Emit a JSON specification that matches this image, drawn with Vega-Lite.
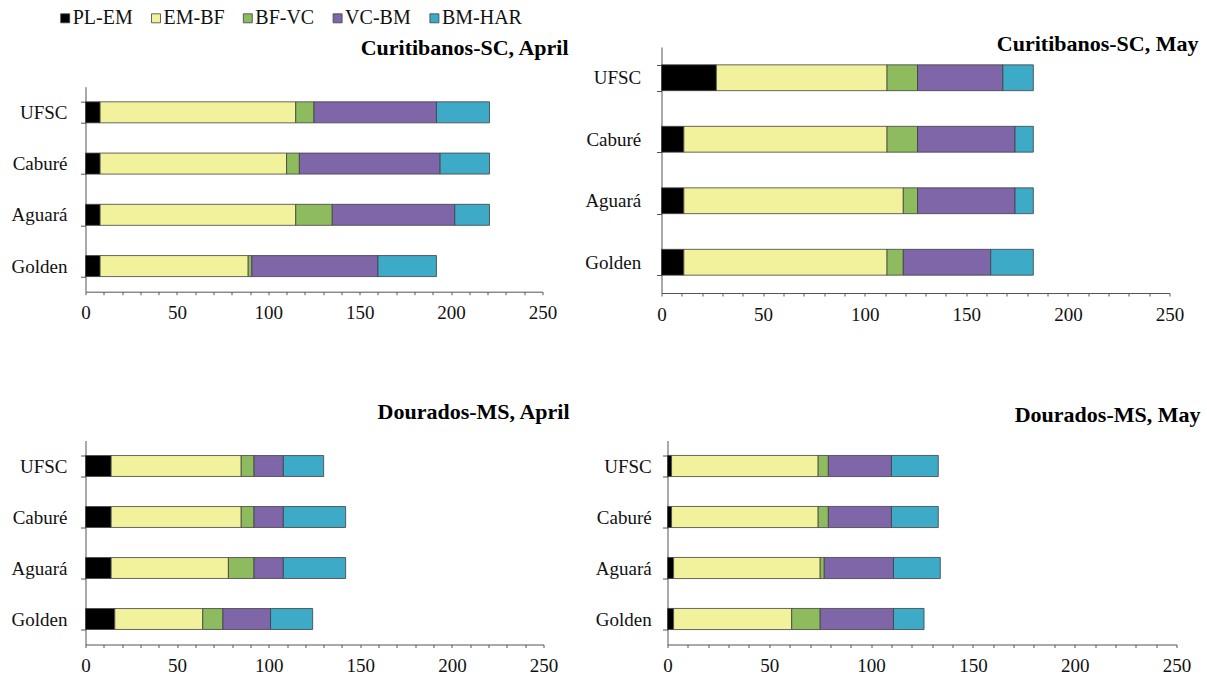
{
  "$schema": "https://vega.github.io/schema/vega-lite/v6.json",
  "padding": {"left": 10.5, "top": 8, "right": 0, "bottom": 0},
  "background": "white",
  "datasets": {
    "d": [
      {"p":"CA","c":"UFSC","s":"PL-EM","k":1,"v":8},{"p":"CA","c":"UFSC","s":"EM-BF","k":2,"v":107},{"p":"CA","c":"UFSC","s":"BF-VC","k":3,"v":10},{"p":"CA","c":"UFSC","s":"VC-BM","k":4,"v":67},{"p":"CA","c":"UFSC","s":"BM-HAR","k":5,"v":29},
      {"p":"CA","c":"Caburé","s":"PL-EM","k":1,"v":8},{"p":"CA","c":"Caburé","s":"EM-BF","k":2,"v":102},{"p":"CA","c":"Caburé","s":"BF-VC","k":3,"v":7},{"p":"CA","c":"Caburé","s":"VC-BM","k":4,"v":77},{"p":"CA","c":"Caburé","s":"BM-HAR","k":5,"v":27},
      {"p":"CA","c":"Aguará","s":"PL-EM","k":1,"v":8},{"p":"CA","c":"Aguará","s":"EM-BF","k":2,"v":107},{"p":"CA","c":"Aguará","s":"BF-VC","k":3,"v":20},{"p":"CA","c":"Aguará","s":"VC-BM","k":4,"v":67},{"p":"CA","c":"Aguará","s":"BM-HAR","k":5,"v":19},
      {"p":"CA","c":"Golden","s":"PL-EM","k":1,"v":8},{"p":"CA","c":"Golden","s":"EM-BF","k":2,"v":81},{"p":"CA","c":"Golden","s":"BF-VC","k":3,"v":2},{"p":"CA","c":"Golden","s":"VC-BM","k":4,"v":69},{"p":"CA","c":"Golden","s":"BM-HAR","k":5,"v":32},
      {"p":"CM","c":"UFSC","s":"PL-EM","k":1,"v":27},{"p":"CM","c":"UFSC","s":"EM-BF","k":2,"v":84},{"p":"CM","c":"UFSC","s":"BF-VC","k":3,"v":15},{"p":"CM","c":"UFSC","s":"VC-BM","k":4,"v":42},{"p":"CM","c":"UFSC","s":"BM-HAR","k":5,"v":15},
      {"p":"CM","c":"Caburé","s":"PL-EM","k":1,"v":11},{"p":"CM","c":"Caburé","s":"EM-BF","k":2,"v":100},{"p":"CM","c":"Caburé","s":"BF-VC","k":3,"v":15},{"p":"CM","c":"Caburé","s":"VC-BM","k":4,"v":48},{"p":"CM","c":"Caburé","s":"BM-HAR","k":5,"v":9},
      {"p":"CM","c":"Aguará","s":"PL-EM","k":1,"v":11},{"p":"CM","c":"Aguará","s":"EM-BF","k":2,"v":108},{"p":"CM","c":"Aguará","s":"BF-VC","k":3,"v":7},{"p":"CM","c":"Aguará","s":"VC-BM","k":4,"v":48},{"p":"CM","c":"Aguará","s":"BM-HAR","k":5,"v":9},
      {"p":"CM","c":"Golden","s":"PL-EM","k":1,"v":11},{"p":"CM","c":"Golden","s":"EM-BF","k":2,"v":100},{"p":"CM","c":"Golden","s":"BF-VC","k":3,"v":8},{"p":"CM","c":"Golden","s":"VC-BM","k":4,"v":43},{"p":"CM","c":"Golden","s":"BM-HAR","k":5,"v":21},
      {"p":"DA","c":"UFSC","s":"PL-EM","k":1,"v":14},{"p":"DA","c":"UFSC","s":"EM-BF","k":2,"v":71},{"p":"DA","c":"UFSC","s":"BF-VC","k":3,"v":7},{"p":"DA","c":"UFSC","s":"VC-BM","k":4,"v":16},{"p":"DA","c":"UFSC","s":"BM-HAR","k":5,"v":22},
      {"p":"DA","c":"Caburé","s":"PL-EM","k":1,"v":14},{"p":"DA","c":"Caburé","s":"EM-BF","k":2,"v":71},{"p":"DA","c":"Caburé","s":"BF-VC","k":3,"v":7},{"p":"DA","c":"Caburé","s":"VC-BM","k":4,"v":16},{"p":"DA","c":"Caburé","s":"BM-HAR","k":5,"v":34},
      {"p":"DA","c":"Aguará","s":"PL-EM","k":1,"v":14},{"p":"DA","c":"Aguará","s":"EM-BF","k":2,"v":64},{"p":"DA","c":"Aguará","s":"BF-VC","k":3,"v":14},{"p":"DA","c":"Aguará","s":"VC-BM","k":4,"v":16},{"p":"DA","c":"Aguará","s":"BM-HAR","k":5,"v":34},
      {"p":"DA","c":"Golden","s":"PL-EM","k":1,"v":16},{"p":"DA","c":"Golden","s":"EM-BF","k":2,"v":48},{"p":"DA","c":"Golden","s":"BF-VC","k":3,"v":11},{"p":"DA","c":"Golden","s":"VC-BM","k":4,"v":26},{"p":"DA","c":"Golden","s":"BM-HAR","k":5,"v":23},
      {"p":"DM","c":"UFSC","s":"PL-EM","k":1,"v":2},{"p":"DM","c":"UFSC","s":"EM-BF","k":2,"v":72},{"p":"DM","c":"UFSC","s":"BF-VC","k":3,"v":5},{"p":"DM","c":"UFSC","s":"VC-BM","k":4,"v":31},{"p":"DM","c":"UFSC","s":"BM-HAR","k":5,"v":23},
      {"p":"DM","c":"Caburé","s":"PL-EM","k":1,"v":2},{"p":"DM","c":"Caburé","s":"EM-BF","k":2,"v":72},{"p":"DM","c":"Caburé","s":"BF-VC","k":3,"v":5},{"p":"DM","c":"Caburé","s":"VC-BM","k":4,"v":31},{"p":"DM","c":"Caburé","s":"BM-HAR","k":5,"v":23},
      {"p":"DM","c":"Aguará","s":"PL-EM","k":1,"v":3},{"p":"DM","c":"Aguará","s":"EM-BF","k":2,"v":72},{"p":"DM","c":"Aguará","s":"BF-VC","k":3,"v":2},{"p":"DM","c":"Aguará","s":"VC-BM","k":4,"v":34},{"p":"DM","c":"Aguará","s":"BM-HAR","k":5,"v":23},
      {"p":"DM","c":"Golden","s":"PL-EM","k":1,"v":3},{"p":"DM","c":"Golden","s":"EM-BF","k":2,"v":58},{"p":"DM","c":"Golden","s":"BF-VC","k":3,"v":14},{"p":"DM","c":"Golden","s":"VC-BM","k":4,"v":36},{"p":"DM","c":"Golden","s":"BM-HAR","k":5,"v":15}
    ]
  },
  "data": {"name": "d"},
  "spacing": 76.5,
  "vconcat": [
    {
      "spacing": 16,
      "hconcat": [
        {
          "spacing": 10.7,
          "vconcat": [
            {
              "title": {"text": "Curitibanos-SC, April", "anchor": "end", "frame": "group", "dx": 26, "offset": -30.3, "baseline": "alphabetic", "font": "Liberation Serif", "fontSize": 22, "fontWeight": "bold", "color": "#000000"},
              "width": 457, "height": 20,
              "transform": [{"filter": "false"}],
              "mark": {"type": "point", "opacity": 0},
              "encoding": {}
            },
            {
              "width": 457, "height": 205,
              "transform": [{"filter": "datum.p === 'CA'"}],
              "mark": {"type": "bar", "stroke": "#404040", "strokeWidth": 0.8},
              "encoding": {
                "y": {"field": "c", "type": "nominal", "sort": ["UFSC","Caburé","Aguará","Golden"], "title": null,
                      "scale": {"paddingInner": 0.59, "paddingOuter": 0.295},
                      "axis": {"labelFont": "Liberation Serif", "labelFontSize": 19, "labelColor": "#111111", "labelPadding": 13.5, "tickSize": 5, "tickBand": "extent", "domainColor": "#555555", "tickColor": "#555555"}},
                "x": {"field": "v", "type": "quantitative", "stack": "zero", "title": null, "scale": {"domain": [0, 250], "nice": false},
                      "axis": {"labelFont": "Liberation Serif", "labelFontSize": 19, "labelColor": "#111111", "tickSize": 3, "labelPadding": 9, "grid": false, "domainColor": "#555555", "tickColor": "#555555",
                               "values": [0,10,20,30,40,50,60,70,80,90,100,110,120,130,140,150,160,170,180,190,200,210,220,230,240,250],
                               "labelExpr": "datum.value % 50 === 0 ? datum.label : ''", "labelFlush": false, "labelOverlap": false}},
                "color": {"field": "s", "type": "nominal",
                          "scale": {"domain": ["PL-EM","EM-BF","BF-VC","VC-BM","BM-HAR"], "range": ["#000000","#F3F29C","#8DBB5E","#7E66A8","#3DAAC7"]},
                          "legend": {"orient": "none", "direction": "horizontal", "legendX": -30.3, "legendY": -38.7, "title": null,
                                     "labelFont": "Liberation Serif", "labelFontSize": 20, "labelColor": "#111111", "symbolType": "square", "symbolSize": 81,
                                     "symbolStrokeColor": "#333333", "symbolStrokeWidth": 0.8, "columnPadding": 12.8, "labelOffset": -2.5, "padding": 0}},
                "order": {"field": "k", "type": "quantitative"}
              }
            }
          ]
        },
        {
          "title": {"text": "Curitibanos-SC, May", "anchor": "end", "frame": "group", "dx": 29, "offset": -35, "baseline": "alphabetic", "font": "Liberation Serif", "fontSize": 22, "fontWeight": "bold", "color": "#000000"},
          "width": 508, "height": 246,
          "transform": [{"filter": "datum.p === 'CM'"}],
          "mark": {"type": "bar", "stroke": "#404040", "strokeWidth": 0.8},
          "encoding": {
            "y": {"field": "c", "type": "nominal", "sort": ["UFSC","Caburé","Aguará","Golden"], "title": null,
                  "scale": {"paddingInner": 0.58, "paddingOuter": 0.29},
                  "axis": {"labelFont": "Liberation Serif", "labelFontSize": 19, "labelColor": "#111111", "labelPadding": 15.7, "tickSize": 5, "tickBand": "extent", "domainColor": "#555555", "tickColor": "#555555"}},
            "x": {"field": "v", "type": "quantitative", "stack": "zero", "title": null, "scale": {"domain": [0, 250], "nice": false},
                  "axis": {"labelFont": "Liberation Serif", "labelFontSize": 19, "labelColor": "#111111", "tickSize": 3, "labelPadding": 9, "grid": false, "domainColor": "#555555", "tickColor": "#555555",
                           "values": [0,10,20,30,40,50,60,70,80,90,100,110,120,130,140,150,160,170,180,190,200,210,220,230,240,250],
                           "labelExpr": "datum.value % 50 === 0 ? datum.label : ''", "labelFlush": false, "labelOverlap": false}},
            "color": {"field": "s", "type": "nominal"},
            "order": {"field": "k", "type": "quantitative"}
          }
        }
      ]
    },
    {
      "spacing": 25,
      "hconcat": [
        {
          "title": {"text": "Dourados-MS, April", "anchor": "end", "frame": "group", "dx": 26, "offset": -9, "baseline": "alphabetic", "font": "Liberation Serif", "fontSize": 22, "fontWeight": "bold", "color": "#000000"},
          "width": 458, "height": 204,
          "transform": [{"filter": "datum.p === 'DA'"}],
          "mark": {"type": "bar", "stroke": "#404040", "strokeWidth": 0.8},
          "encoding": {
            "y": {"field": "c", "type": "nominal", "sort": ["UFSC","Caburé","Aguará","Golden"], "title": null,
                  "scale": {"paddingInner": 0.59, "paddingOuter": 0.295},
                  "axis": {"labelFont": "Liberation Serif", "labelFontSize": 19, "labelColor": "#111111", "labelPadding": 13.5, "tickSize": 5, "tickBand": "extent", "domainColor": "#555555", "tickColor": "#555555"}},
            "x": {"field": "v", "type": "quantitative", "stack": "zero", "title": null, "scale": {"domain": [0, 250], "nice": false},
                  "axis": {"labelFont": "Liberation Serif", "labelFontSize": 19, "labelColor": "#111111", "tickSize": 3, "labelPadding": 9, "grid": false, "domainColor": "#555555", "tickColor": "#555555",
                           "values": [0,10,20,30,40,50,60,70,80,90,100,110,120,130,140,150,160,170,180,190,200,210,220,230,240,250],
                           "labelExpr": "datum.value % 50 === 0 ? datum.label : ''", "labelFlush": false, "labelOverlap": false}},
            "color": {"field": "s", "type": "nominal"},
            "order": {"field": "k", "type": "quantitative"}
          }
        },
        {
          "title": {"text": "Dourados-MS, May", "anchor": "end", "frame": "group", "dx": 24, "offset": -12.5, "baseline": "alphabetic", "font": "Liberation Serif", "fontSize": 22, "fontWeight": "bold", "color": "#000000"},
          "width": 509, "height": 204,
          "transform": [{"filter": "datum.p === 'DM'"}],
          "mark": {"type": "bar", "stroke": "#404040", "strokeWidth": 0.8},
          "encoding": {
            "y": {"field": "c", "type": "nominal", "sort": ["UFSC","Caburé","Aguará","Golden"], "title": null,
                  "scale": {"paddingInner": 0.586, "paddingOuter": 0.293},
                  "axis": {"labelFont": "Liberation Serif", "labelFontSize": 19, "labelColor": "#111111", "labelPadding": 11.3, "tickSize": 5, "tickBand": "extent", "domainColor": "#555555", "tickColor": "#555555"}},
            "x": {"field": "v", "type": "quantitative", "stack": "zero", "title": null, "scale": {"domain": [0, 250], "nice": false},
                  "axis": {"labelFont": "Liberation Serif", "labelFontSize": 19, "labelColor": "#111111", "tickSize": 3, "labelPadding": 9, "grid": false, "domainColor": "#555555", "tickColor": "#555555",
                           "values": [0,10,20,30,40,50,60,70,80,90,100,110,120,130,140,150,160,170,180,190,200,210,220,230,240,250],
                           "labelExpr": "datum.value % 50 === 0 ? datum.label : ''", "labelFlush": false, "labelOverlap": false}},
            "color": {"field": "s", "type": "nominal"},
            "order": {"field": "k", "type": "quantitative"}
          }
        }
      ]
    }
  ],
  "config": {
    "font": "Liberation Serif",
    "view": {"stroke": null}
  }
}
